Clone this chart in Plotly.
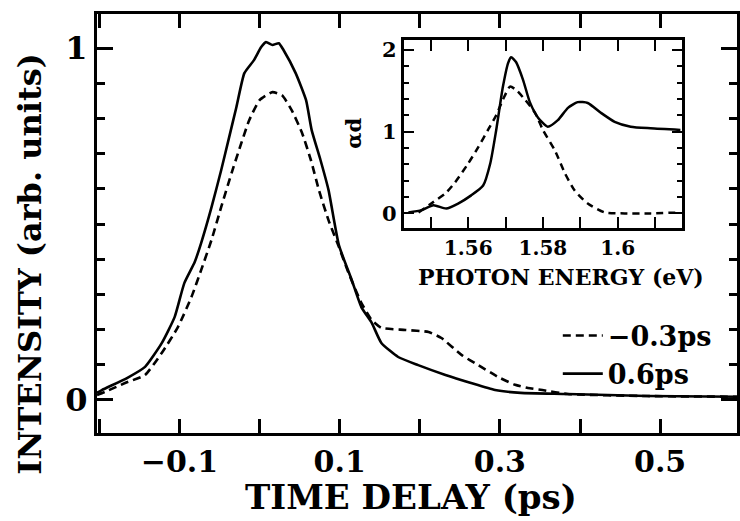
import plotly.graph_objects as go

# ---- main panel data: time delay (ps) vs intensity (arb. units)
t_06 = [-0.203, -0.197, -0.165, -0.143, -0.122, -0.106, -0.094, -0.081, -0.073, -0.060,
        -0.048, -0.038, -0.029, -0.019, -0.007, 0.002, 0.008, 0.016, 0.024, 0.030,
        0.045, 0.058, 0.065, 0.076, 0.086, 0.099, 0.115, 0.127, 0.140, 0.152,
        0.173, 0.198, 0.232, 0.264, 0.294, 0.326, 0.384, 0.484, 0.596]
i_06 = [0.020, 0.028, 0.063, 0.094, 0.162, 0.236, 0.332, 0.392, 0.446, 0.548,
        0.653, 0.747, 0.832, 0.929, 0.966, 1.003, 1.017, 1.009, 1.014, 0.994,
        0.929, 0.852, 0.767, 0.682, 0.597, 0.440, 0.341, 0.264, 0.219, 0.162,
        0.122, 0.099, 0.071, 0.048, 0.028, 0.020, 0.017, 0.011, 0.009]

t_m03 = [-0.203, -0.193, -0.168, -0.143, -0.122, -0.102, -0.085, -0.073, -0.060, -0.048,
         -0.035, -0.025, -0.013, 0.000, 0.016, 0.028, 0.040, 0.053, 0.064, 0.074,
         0.086, 0.099, 0.111, 0.127, 0.140, 0.152, 0.182, 0.211, 0.227, 0.252,
         0.273, 0.298, 0.319, 0.335, 0.353, 0.384, 0.484, 0.596]
i_m03 = [0.014, 0.023, 0.048, 0.071, 0.134, 0.207, 0.293, 0.369, 0.455, 0.548,
         0.645, 0.715, 0.795, 0.852, 0.875, 0.866, 0.824, 0.759, 0.682, 0.597,
         0.511, 0.435, 0.361, 0.276, 0.227, 0.205, 0.199, 0.193, 0.176, 0.128,
         0.099, 0.065, 0.043, 0.034, 0.028, 0.017, 0.011, 0.009]

# ---- inset data: photon energy (eV) vs alpha*d
e_06 = [1.5440, 1.5475, 1.5507, 1.5541, 1.5573, 1.5608, 1.5640, 1.5659, 1.5675, 1.5693,
        1.5707, 1.5715, 1.5728, 1.5747, 1.5765, 1.5787, 1.5813, 1.5840, 1.5867, 1.5893,
        1.5920, 1.5955, 1.5992, 1.6035, 1.6088, 1.6168]
a_06 = [0.012, 0.04, 0.10, 0.06, 0.12, 0.22, 0.34, 0.61, 1.02, 1.55,
        1.84, 1.91, 1.85, 1.63, 1.36, 1.17, 1.06, 1.14, 1.29, 1.36,
        1.35, 1.23, 1.12, 1.06, 1.04, 1.02]

e_m03 = [1.5467, 1.5501, 1.5539, 1.5565, 1.5600, 1.5627, 1.5653, 1.5675, 1.5693, 1.5712,
         1.5728, 1.5752, 1.5779, 1.5800, 1.5832, 1.5859, 1.5885, 1.5920, 1.5965, 1.6019,
         1.6088, 1.6160]
a_m03 = [0.01, 0.12, 0.245, 0.38, 0.61, 0.81, 1.02, 1.20, 1.39, 1.55,
         1.51, 1.39, 1.23, 1.02, 0.77, 0.49, 0.28, 0.12, 0.012, 0.0,
         0.0, 0.01]

x_ticks = [-0.1, 0.1, 0.3, 0.5]
x_ticktext = ["\u22120.1", "0.1", "0.3", "0.5"]
y_ticks = [0, 1]
ix_ticks = [1.56, 1.58, 1.60]
ix_ticktext = ["1.56", "1.58", "1.6"]
iy_ticks = [0, 1, 2]

FONT = "DejaVu Serif"
BLACK = "black"

fig = go.Figure()
fig.add_trace(go.Scatter(x=t_m03, y=i_m03, mode="lines", name="\u22120.3ps",
                         line=dict(color=BLACK, width=2.6, dash="8px,5px",
                                   shape="spline", smoothing=0.5)))
fig.add_trace(go.Scatter(x=t_06, y=i_06, mode="lines", name="0.6ps",
                         line=dict(color=BLACK, width=2.6, shape="spline", smoothing=0.5)))
fig.add_trace(go.Scatter(x=e_06, y=a_06, mode="lines", showlegend=False,
                         line=dict(color=BLACK, width=2.5, shape="spline", smoothing=0.6),
                         xaxis="x2", yaxis="y2"))
fig.add_trace(go.Scatter(x=e_m03, y=a_m03, mode="lines", showlegend=False,
                         line=dict(color=BLACK, width=2.5, dash="7px,5px",
                                   shape="spline", smoothing=0.6),
                         xaxis="x2", yaxis="y2"))

axis_common = dict(showgrid=False, zeroline=False, showline=True, linecolor=BLACK,
                   ticks="inside", tickcolor=BLACK)

fig.update_layout(
    width=740, height=521,
    margin=dict(l=97, r=0, t=14, b=88),
    paper_bgcolor="white", plot_bgcolor="white",
    font=dict(family=FONT, color=BLACK),
    xaxis=dict(**axis_common, range=[-0.203, 0.596], linewidth=3, mirror="allticks",
               tickvals=x_ticks, ticktext=x_ticktext, ticklen=14, tickwidth=2.5,
               minor=dict(dtick=0.1, tick0=0, ticks="inside", ticklen=14, tickwidth=2.5,
                          tickcolor=BLACK),
               tickfont=dict(size=30, family=FONT, weight="bold")),
    yaxis=dict(**axis_common, range=[-0.094, 1.097], linewidth=3, mirror="allticks",
               tickvals=y_ticks, ticklen=16, tickwidth=2.5,
               minor=dict(dtick=0.1, tick0=0, ticks="inside", ticklen=8, tickwidth=2.5,
                          tickcolor=BLACK),
               tickfont=dict(size=32, family=FONT, weight="bold")),
    xaxis2=dict(**axis_common, domain=[0.479, 0.9145], anchor="y2", range=[1.5427, 1.6173],
                linewidth=2.5, mirror="allticks", tickvals=ix_ticks, ticktext=ix_ticktext,
                ticklen=11, tickwidth=2, ticklabelstandoff=0,
                minor=dict(dtick=0.01, tick0=1.55, ticks="inside", ticklen=11, tickwidth=2,
                           tickcolor=BLACK),
                tickfont=dict(size=20, family=FONT, weight="bold")),
    yaxis2=dict(**axis_common, domain=[0.489, 0.938], anchor="x2", range=[-0.18, 2.12],
                linewidth=2.5, mirror="allticks", tickvals=iy_ticks, ticklen=11, tickwidth=2,
                minor=dict(dtick=0.2, tick0=0, ticks="inside", ticklen=6, tickwidth=2,
                           tickcolor=BLACK),
                tickfont=dict(size=21, family=FONT, weight="bold")),
    legend=dict(x=0.72, y=0.29, xanchor="left", yanchor="top",
                bgcolor="rgba(0,0,0,0)", font=dict(size=27, family=FONT, weight="bold"),
                tracegroupgap=0, itemwidth=40),
    showlegend=True,
    annotations=[
        dict(text="<b>TIME DELAY (ps)</b>", xref="paper", yref="paper", x=0.49, y=-0.153,
             xanchor="center", yanchor="middle", showarrow=False,
             font=dict(size=34, family=FONT)),
        dict(text="<b>INTENSITY (arb. units)</b>", xref="paper", yref="paper", x=-0.104,
             y=0.405, xanchor="center", yanchor="middle", textangle=-90, showarrow=False,
             font=dict(size=32, family=FONT)),
        dict(text="<b>PHOTON ENERGY (eV)</b>", xref="paper", yref="paper", x=0.725, y=0.372,
             xanchor="center", yanchor="middle", showarrow=False,
             font=dict(size=22, family=FONT)),
        dict(text="<b>\u03b1d</b>", xref="paper", yref="paper", x=0.401, y=0.716,
             xanchor="center", yanchor="middle", textangle=-90, showarrow=False,
             font=dict(size=21, family=FONT)),
    ],
)

fig.write_html("out.html")
